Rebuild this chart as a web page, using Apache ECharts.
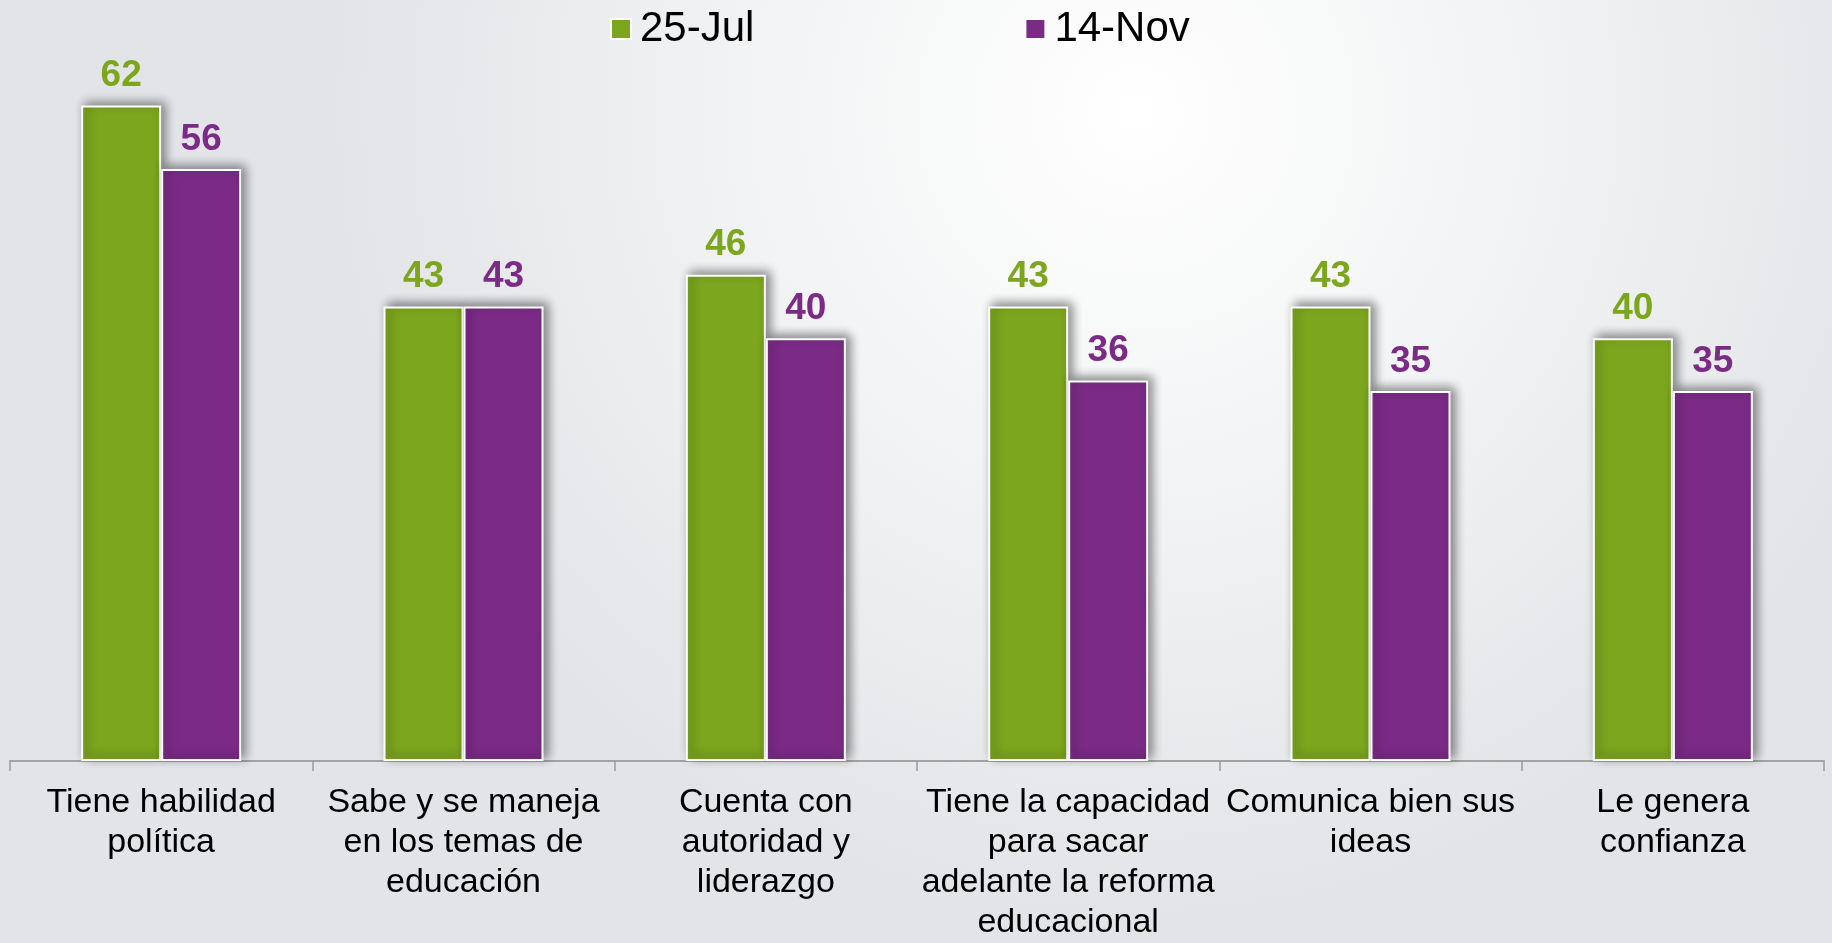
<!DOCTYPE html>
<html>
<head>
<meta charset="utf-8">
<script src="https://cdn.jsdelivr.net/npm/echarts@6/dist/echarts.min.js"></script>
<style>
html,body{margin:0;padding:0;}
#chart{width:1832px;height:943px;}
</style>
</head>
<body>
<div id="chart"></div>
<script>
const categories = [
  "Tiene habilidad\npolítica",
  "Sabe y se maneja\nen los temas de\neducación",
  "Cuenta con\nautoridad y\nliderazgo",
  "Tiene la capacidad\npara sacar\nadelante la reforma\neducacional",
  "Comunica bien sus\nideas",
  "Le genera\nconfianza"
];
const seriesNames = ["25-Jul", "14-Nov"];
const jul25 = [62, 43, 46, 43, 43, 40];
const nov14 = [56, 43, 40, 36, 35, 35];

const GREEN = '#7ca61e';
const PURPLE = '#7b2b86';

const chart = echarts.init(document.getElementById('chart'));

function barSeries(name, data, color) {
  return {
    name: name,
    type: 'bar',
    data: data,
    barWidth: 80,
    barGap: '0%',
    itemStyle: {
      color: color,
      borderColor: '#ffffff',
      borderWidth: 2,
      shadowColor: 'rgba(0,0,0,0.45)',
      shadowBlur: 10,
      shadowOffsetX: 4,
      shadowOffsetY: -3
    },
    label: {
      show: true,
      position: 'top',
      distance: 11,
      color: color,
      fontFamily: 'Liberation Sans, Arial, sans-serif',
      fontWeight: 'bold',
      fontSize: 37
    }
  };
}

chart.setOption({
  animation: false,
  backgroundColor: {
    type: 'radial', x: 0.62, y: 0.12, r: 0.85,
    colorStops: [
      {offset: 0, color: '#ffffff'},
      {offset: 0.45, color: '#f3f4f5'},
      {offset: 1, color: '#e3e4e7'}
    ]
  },
  legend: {
    data: seriesNames,
    left: 605,
    top: 3,
    itemWidth: 20,
    itemHeight: 20,
    itemGap: 270,
    icon: 'rect',
    textStyle: {
      fontFamily: 'Liberation Sans, Arial, sans-serif',
      fontSize: 42,
      color: '#000000',
      padding: [0, 0, 0, 4]
    }
  },
  grid: {left: 10, right: 8, top: 21, bottom: 176, containLabel: false},
  xAxis: {
    type: 'category',
    data: categories,
    axisLine: {show: true, lineStyle: {color: '#a3a3a3', width: 2}},
    axisTick: {show: true, length: 10, lineStyle: {color: '#999999', width: 1.5}},
    axisLabel: {
      interval: 0,
      margin: 22,
      color: '#000000',
      fontFamily: 'Liberation Sans, Arial, sans-serif',
      fontSize: 34,
      lineHeight: 40,
      align: 'center'
    }
  },
  yAxis: {
    type: 'value',
    min: 0,
    max: 70,
    show: false,
    splitLine: {show: false}
  },
  series: [
    barSeries(seriesNames[0], jul25, GREEN),
    barSeries(seriesNames[1], nov14, PURPLE)
  ]
});
</script>
</body>
</html>
